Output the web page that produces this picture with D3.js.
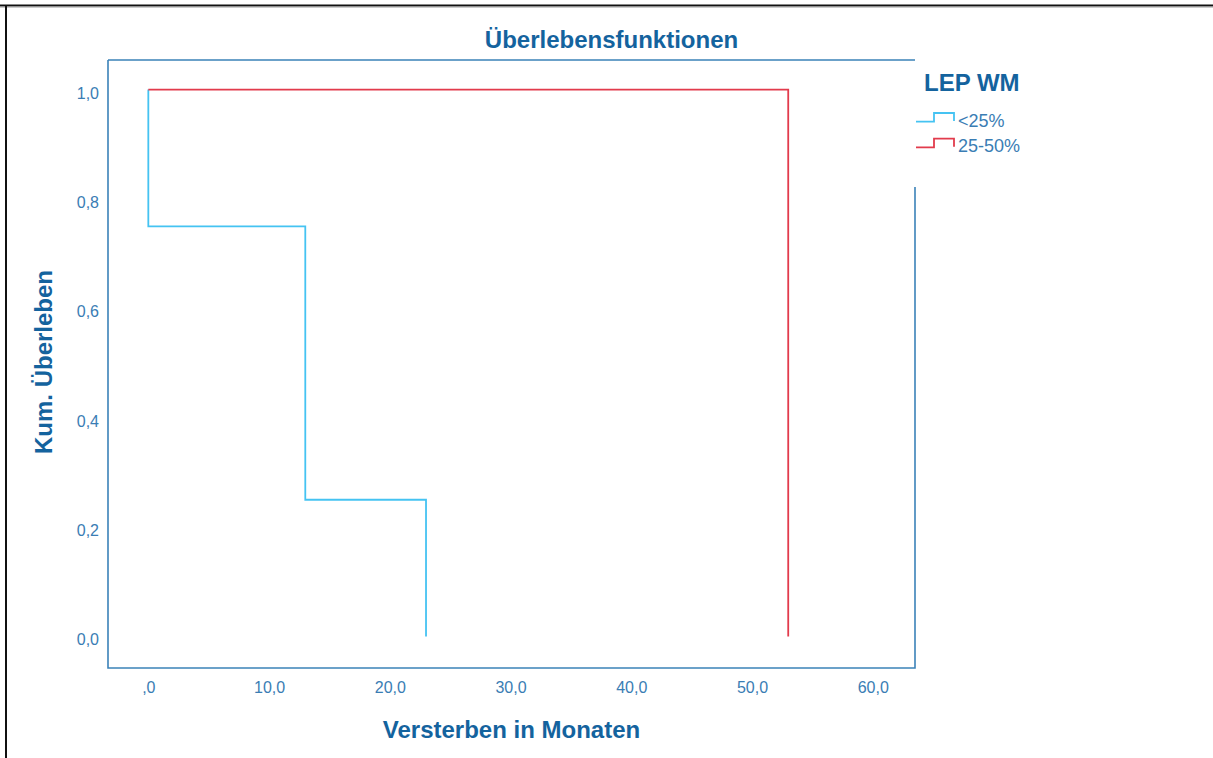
<!DOCTYPE html>
<html>
<head>
<meta charset="utf-8">
<script src="https://cdn.jsdelivr.net/npm/d3@7"></script>
<style>
  html, body { margin: 0; padding: 0; background: #fff; }
  svg { display: block; font-family: "Liberation Sans", Arial, sans-serif; }
</style>
</head>
<body>
<svg id="chart" width="1213" height="758"></svg>
<script>
// Kaplan-Meier survival steps per group (time in months, cumulative survival after the step)
const groups = ["<25%", "25-50%"];
const timesLow = [0, 0, 13, 23];
const survLow = [1.0, 0.75, 0.25, 0.0];
const timesMid = [0, 53];
const survMid = [1.0, 0.0];
const xTicks = [0, 10, 20, 30, 40, 50, 60];
const yTicks = [0, 0.2, 0.4, 0.6, 0.8, 1.0];

const colors = { "<25%": "#45c3f2", "25-50%": "#e23b4c" };
const frameColor = "#3b82b8";
const titleColor = "#14639e";
const tickColor = "#3a7db4";

const svg = d3.select("#chart");
const box = { left: 108, right: 915, top: 60, bottom: 668 };

// Outer frame of the output area
svg.append("line").attr("x1", 0).attr("x2", 1213).attr("y1", 5.5).attr("y2", 5.5)
  .attr("stroke", "#111").attr("stroke-width", 2);
svg.append("line").attr("x1", 0).attr("x2", 1213).attr("y1", 7).attr("y2", 7)
  .attr("stroke", "#999").attr("stroke-width", 1);
svg.append("line").attr("x1", 6).attr("x2", 6).attr("y1", 5).attr("y2", 758)
  .attr("stroke", "#111").attr("stroke-width", 2);

const x = d3.scaleLinear().domain([-3.34, 63.5]).range([box.left, box.right]);
const y = d3.scaleLinear().domain([-0.0576, 1.054]).range([box.bottom, box.top]);

// Plot frame (right edge interrupted by the legend)
const frame = svg.append("g").attr("stroke", frameColor).attr("stroke-width", 1.6).attr("fill", "none");
frame.append("path").attr("d",
  `M${box.left},${box.top}H${box.right}M${box.left},${box.top}V${box.bottom}H${box.right}V187`);

// Axes: tick labels only, SPSS style with comma decimals
const fmtX = v => v === 0 ? ",0" : d3.format(".1f")(v).replace(".", ",");
const fmtY = v => d3.format(".1f")(v).replace(".", ",");

const xAxis = svg.append("g").attr("transform", `translate(0,${box.bottom})`)
  .call(d3.axisBottom(x).tickValues(xTicks).tickSize(0).tickPadding(0).tickFormat(fmtX));
xAxis.select(".domain").remove();
xAxis.selectAll("text").attr("y", 24.5).attr("dy", null)
  .attr("fill", tickColor).style("font-size", "16px");

const yAxis = svg.append("g").attr("transform", `translate(${box.left},0)`)
  .call(d3.axisLeft(y).tickValues(yTicks).tickSize(0).tickPadding(0).tickFormat(fmtY));
yAxis.select(".domain").remove();
yAxis.selectAll("text").attr("x", -9).attr("dy", "8.5px")
  .attr("fill", tickColor).style("font-size", "16px");

// Survival curves
const line = d3.line().x(d => x(d[0])).y(d => y(d[1])).curve(d3.curveStepAfter);
const series = [
  { name: groups[0], pts: d3.zip(timesLow, survLow) },
  { name: groups[1], pts: d3.zip(timesMid, survMid) }
];
svg.append("g").selectAll("path").data(series).join("path")
  .attr("d", d => line(d.pts))
  .attr("fill", "none")
  .attr("stroke", d => colors[d.name])
  .attr("stroke-width", 1.8)
  .attr("stroke-linejoin", "miter");

// Titles
svg.append("text").attr("x", 611.5).attr("y", 48).attr("text-anchor", "middle")
  .attr("fill", titleColor).style("font-size", "24px").style("font-weight", "bold")
  .text("Überlebensfunktionen");
svg.append("text").attr("x", (box.left + box.right) / 2).attr("y", 738).attr("text-anchor", "middle")
  .attr("fill", titleColor).style("font-size", "24px").style("font-weight", "bold")
  .text("Versterben in Monaten");
svg.append("text").attr("transform", `translate(52,362) rotate(-90)`).attr("text-anchor", "middle")
  .attr("fill", titleColor).style("font-size", "24px").style("font-weight", "bold")
  .text("Kum. Überleben");

// Legend
const legend = svg.append("g");
legend.append("text").attr("x", 924).attr("y", 90.5)
  .attr("fill", titleColor).style("font-size", "24px").style("font-weight", "bold")
  .text("LEP WM");
const items = legend.selectAll("g.item").data(groups).join("g")
  .attr("class", "item")
  .attr("transform", (d, i) => `translate(0,${i * 25.7})`);
items.append("path")
  .attr("d", "M916,121.7H934V113H954V121")
  .attr("fill", "none")
  .attr("stroke", d => colors[d])
  .attr("stroke-width", 1.8);
items.append("text").attr("x", 958).attr("y", 126.7)
  .attr("fill", tickColor).style("font-size", "18px")
  .text(d => d);
</script>
</body>
</html>
